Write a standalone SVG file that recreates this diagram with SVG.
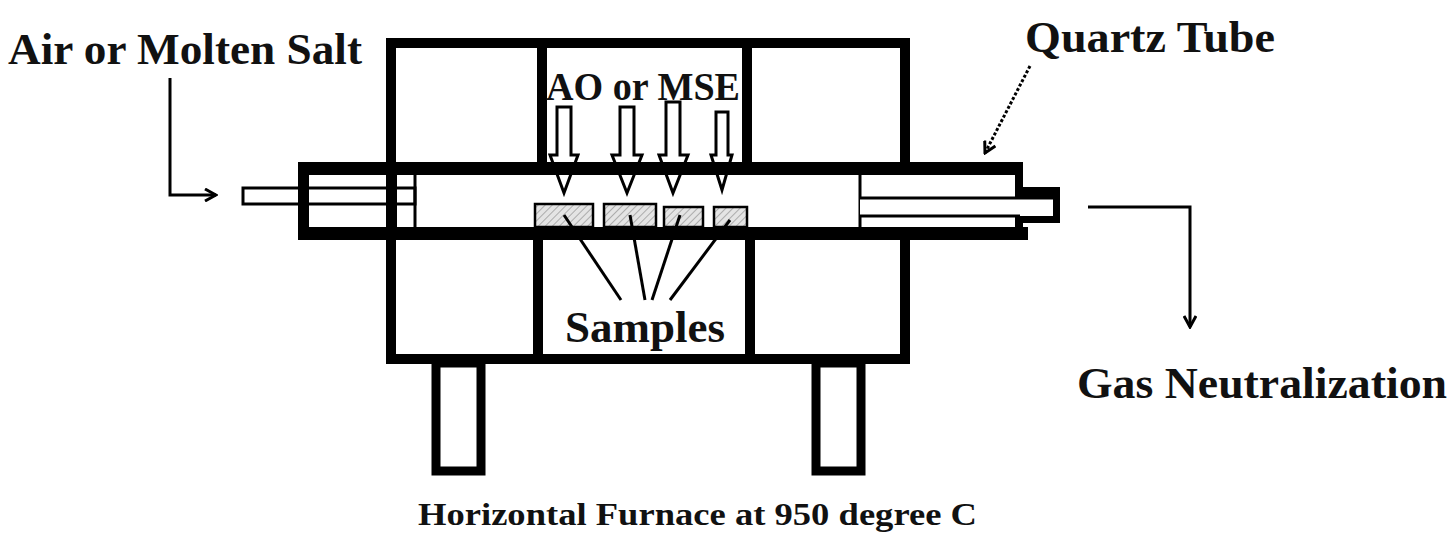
<svg xmlns="http://www.w3.org/2000/svg" width="1456" height="543" viewBox="0 0 1456 543">
<defs>
<style>
.t{font-family:"Liberation Serif",serif;font-weight:bold;fill:#111}
.k{fill:#000}
.ln{stroke:#000;stroke-width:3;fill:none}
.ha{fill:#fff;stroke:#000;stroke-width:3}
</style>
<pattern id="h" width="5" height="5" patternUnits="userSpaceOnUse" patternTransform="rotate(45)"><rect width="5" height="5" fill="#e4e4e4"/><line x1="0" y1="0" x2="0" y2="5" stroke="#999" stroke-width="1.5"/></pattern>
<marker id="a" markerWidth="14" markerHeight="14" refX="12" refY="7" orient="auto" markerUnits="userSpaceOnUse"><path d="M1,1 L12,7 L1,13" fill="none" stroke="#000" stroke-width="3"/></marker>
</defs>
<rect width="1456" height="543" fill="#fff"/>
<g id="furnace">
<rect x="391" y="43" width="514" height="316" fill="none" stroke="#000" stroke-width="10"/>
<rect x="537" y="43" width="10" height="125" class="k"/>
<rect x="742" y="43" width="10" height="125" class="k"/>
<rect x="533" y="234" width="10" height="125" class="k"/>
<rect x="745" y="234" width="10" height="125" class="k"/>
</g>
<g id="legs">
<rect x="436" y="363" width="45" height="108" fill="#fff" stroke="#000" stroke-width="9"/>
<rect x="816" y="363" width="45" height="108" fill="#fff" stroke="#000" stroke-width="9"/>
</g>
<g id="arrows-ao">
<path class="ha" d="M557,107 H571 V155 H578 L564,193 L550,155 H557 Z"/>
<path class="ha" d="M620,107 H634 V155 H642 L627,193 L612,155 H620 Z"/>
<path class="ha" d="M666,102 H680 V155 H688 L673,193 L659,155 H666 Z"/>
<path class="ha" d="M716,112 H728 V155 H732 L722,190 L711,155 H716 Z"/>
</g>
<g id="tube">
<rect x="862" y="175" width="153" height="52" fill="#fff"/>
<rect x="298" y="162" width="725" height="13" class="k"/>
<rect x="298" y="227" width="730" height="13" class="k"/>
<rect x="298" y="162" width="11" height="78" class="k"/>
<rect x="388" y="175" width="9" height="52" class="k"/>
<line x1="415" y1="175" x2="415" y2="227" class="ln"/>
<rect x="243" y="188" width="172" height="16" fill="none" stroke="#000" stroke-width="3"/>
<line x1="860" y1="175" x2="860" y2="227" class="ln"/>
<rect x="1015" y="187" width="45" height="36" class="k"/>
<rect x="1015" y="175" width="8" height="52" class="k"/>
<rect x="860" y="198" width="193" height="18" fill="#fff"/>
<line x1="860" y1="198" x2="1053" y2="198" class="ln"/>
<line x1="860" y1="216" x2="1020" y2="216" class="ln"/>
</g>
<g id="samples">
<rect x="535" y="204" width="58" height="23" fill="url(#h)" stroke="#000" stroke-width="2.5"/>
<rect x="604" y="204" width="52" height="23" fill="url(#h)" stroke="#000" stroke-width="2.5"/>
<rect x="664" y="207" width="39" height="20" fill="url(#h)" stroke="#000" stroke-width="2.5"/>
<rect x="714" y="207" width="33" height="20" fill="url(#h)" stroke="#000" stroke-width="2.5"/>
</g>
<g id="connectors">
<path class="ln" d="M170,78 V195 H216" marker-end="url(#a)"/>
<path class="ln" d="M1030,66 L985,153" stroke-dasharray="3,2" marker-end="url(#a)"/>
<path class="ln" d="M1088,207 H1190 V327" marker-end="url(#a)"/>
<line x1="564" y1="215" x2="621" y2="300" class="ln" stroke-width="2.5"/>
<line x1="630" y1="215" x2="645" y2="300" class="ln" stroke-width="2.5"/>
<line x1="680" y1="215" x2="652" y2="300" class="ln" stroke-width="2.5"/>
<line x1="730" y1="220" x2="670" y2="300" class="ln" stroke-width="2.5"/>
</g>
<g id="labels">
<text class="t" x="8" y="64" font-size="44" textLength="354" lengthAdjust="spacingAndGlyphs">Air or Molten Salt</text>
<text class="t" x="1025" y="52" font-size="44" textLength="250" lengthAdjust="spacingAndGlyphs">Quartz Tube</text>
<text class="t" x="546" y="100" font-size="40" textLength="194" lengthAdjust="spacingAndGlyphs">AO or MSE</text>
<text class="t" x="565" y="342" font-size="44" textLength="160" lengthAdjust="spacingAndGlyphs">Samples</text>
<text class="t" x="1077" y="398" font-size="44" textLength="370" lengthAdjust="spacingAndGlyphs">Gas Neutralization</text>
<text class="t" x="418" y="525" font-size="32" textLength="559" lengthAdjust="spacingAndGlyphs">Horizontal Furnace at 950 degree C</text>
</g>
</svg>
